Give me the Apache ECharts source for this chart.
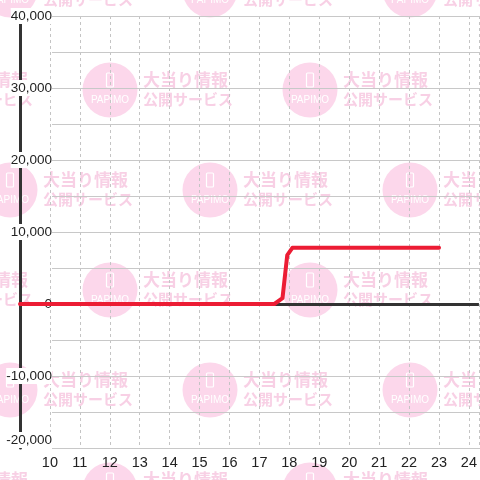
<!DOCTYPE html>
<html>
<head>
<meta charset="utf-8">
<script src="https://cdn.jsdelivr.net/npm/echarts@6/dist/echarts.min.js"></script>
<style>
html, body { margin: 0; padding: 0; background: #fff; }
#chart { width: 480px; height: 480px; }
</style>
</head>
<body>
<div id="chart"></div>
<script>
// 時刻 (x) と差枚 (y)
var hours = [9, 17.5, 17.77, 17.93, 18.1, 23];
var coins = [0, 0, 800, 6800, 7800, 7800];
var xTicks = [10, 11, 12, 13, 14, 15, 16, 17, 18, 19, 20, 21, 22, 23, 24];
var yMin = -20000, yMax = 40000, yStep = 5000;
var xMin = 9, xMax = 9 + 460 / 30;

var chart = echarts.init(document.getElementById('chart'));

//背景の透かし
function buildWatermark() {
	var els = [];
	for (var row = 0; row < 6; row++) {
		var cy = -10 + row * 100;
		var startX = (row % 2 == 0) ? 10 : 110;
		for (var cx = startX - 200; cx < 600; cx += 200) {
			els.push({ type: 'circle', shape: { cx: cx, cy: cy, r: 27.5 }, style: { fill: '#fcd7eb' }, z: -10, silent: true });
			els.push({ type: 'rect', shape: { x: cx - 3.5, y: cy - 17, width: 7, height: 14, r: 1 },
				style: { fill: null, stroke: '#fff', lineWidth: 1.2 }, z: -9, silent: true });
			els.push({ type: 'text', x: cx, y: cy + 10, style: { text: 'PAPIMO', fill: '#fff', font: '10px "Liberation Sans", sans-serif', align: 'center', verticalAlign: 'middle' }, z: -9, silent: true });
			els.push({ type: 'text', x: cx + 33, y: cy - 10, style: { text: '大当り情報', fill: '#f8d0e5', font: 'bold 17px "Noto Sans CJK JP"', align: 'left', verticalAlign: 'middle' }, z: -9, silent: true });
			els.push({ type: 'text', x: cx + 33, y: cy + 9, style: { text: '公開サービス', fill: '#f8d0e5', font: 'bold 15px "Noto Sans CJK JP"', align: 'left', verticalAlign: 'middle' }, z: -9, silent: true });
		}
	}
	return els;
}

var seriesData = [];
for (var i = 0; i < hours.length; i++) {
	seriesData.push([hours[i], coins[i]]);
}

var option = {
	animation: false,
	backgroundColor: '#fff',
	graphic: buildWatermark(),
	grid: [
		{ left: 20, right: 0, top: 16, bottom: 32 },
		{ left: 52, right: 0, top: 16, bottom: 32 }
	],
	xAxis: [
		{
			gridIndex: 0, type: 'value', min: xMin, max: xMax, interval: 1,
			axisLine: { show: false }, axisTick: { show: false },
			splitLine: { show: true, lineStyle: { color: '#c4c4c4', width: 1, type: [3, 3] } },
			axisLabel: {
				margin: 7, color: '#222', fontSize: 14.5, fontFamily: '"Liberation Sans", Arial, sans-serif',
				showMaxLabel: false,
				formatter: function (v) { return xTicks.indexOf(v) >= 0 ? String(v) : ''; }
			}
		},
		{ gridIndex: 1, type: 'value', min: 0, max: 1, show: false }
	],
	yAxis: [
		{
			gridIndex: 0, type: 'value', min: yMin, max: yMax, interval: yStep,
			axisLine: { show: true, lineStyle: { color: '#333', width: 3 } },
			axisTick: { show: false }, axisLabel: { show: false }, splitLine: { show: false }
		},
		{
			gridIndex: 1, type: 'value', min: yMin, max: yMax, interval: yStep, z: 5,
			axisLine: { show: false }, axisTick: { show: false },
			splitLine: { show: true, lineStyle: { color: '#c8c8c8', width: 1 } },
			axisLabel: {
				margin: 0, color: '#222', fontSize: 13.5, fontFamily: '"Liberation Sans", Arial, sans-serif',
				verticalAlignMinLabel: 'bottom',
				formatter: function (v) {
					if (v % 10000 != 0) return '';
					if (v == 0) return '{z|0}';
					return '{a|' + echarts.format.addCommas(v) + '}';
				},
				rich: {
					a: { backgroundColor: '#fff', padding: [1, 0, 1, 0], color: '#222', fontSize: 13.5 },
					z: { width: 44, color: '#222', fontSize: 13.5 }
				}
			}
		}
	],
	series: [
		{
			type: 'line', xAxisIndex: 0, yAxisIndex: 0, data: [], z: 4, silent: true,
			markLine: {
				silent: true, symbol: 'none', label: { show: false },
				lineStyle: { color: '#333', width: 3, type: 'solid' },
				data: [{ yAxis: 0 }]
			}
		},
		{
			type: 'line', xAxisIndex: 0, yAxisIndex: 0, data: seriesData, z: 10,
			showSymbol: false, symbol: 'none',
			lineStyle: { color: '#ec1c34', width: 4, join: 'round', cap: 'round' }
		}
	]
};

chart.setOption(option);
</script>
</body>
</html>
